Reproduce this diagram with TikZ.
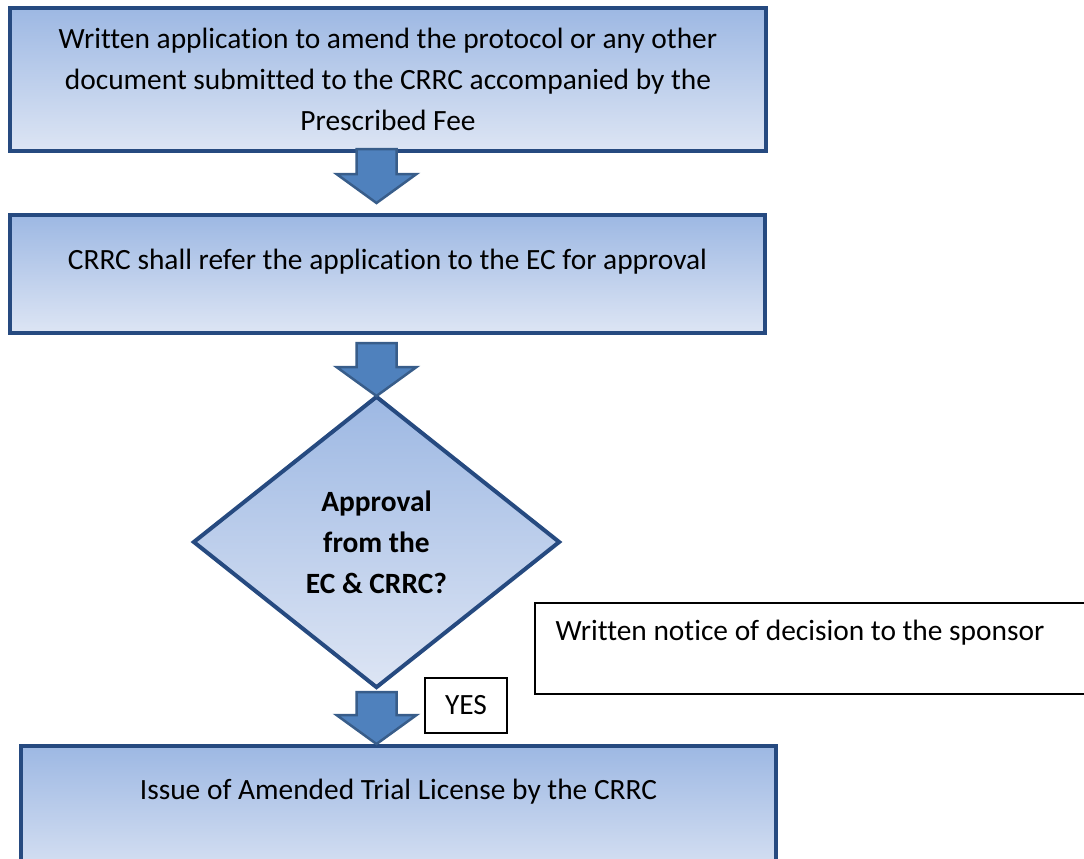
\documentclass[tikz,border=0pt]{standalone}
\usepackage{fontspec}
\setmainfont[Ligatures=NoCommon]{Carlito}
\usetikzlibrary{
    calc,
    positioning,
    shapes.geometric
}
\definecolor{frameblue}{RGB}{38,74,128}
\definecolor{shadetop}{RGB}{157,184,227}
\definecolor{shadebottom}{RGB}{221,229,244}
\definecolor{arrowfill}{RGB}{79,129,189}
\definecolor{arrowframe}{RGB}{56,93,138}
\newcommand{\flowfont}{\fontsize{29.4pt}{41pt}\selectfont}
\tikzset{
    % Colours
    frame color/.style={draw=frameblue},
    flow shading/.style={top color=shadetop,bottom color=shadebottom},
    %
    % Boxes
    process/.style={rectangle,frame color,flow shading,line width=4pt,inner sep=0pt,align=center},
    decision/.style={diamond,frame color,flow shading,line width=4pt,inner sep=0pt,align=center,font=\flowfont\bfseries},
    remark/.style={rectangle,draw=black,fill=white,line width=1.3pt,inner sep=0pt},
    %
    % Block arrows
    block arrow/.style={draw=arrowframe,fill=arrowfill,line width=2.5pt,
        to path={let \p1=(\tikztostart), \p2=(\tikztotarget) in
            (\x2-20pt,\y1) -- (\x2+20pt,\y1) -- (\x2+20pt,\y2+29pt) -- (\x2+40pt,\y2+29pt)
            -- (\x2,\y2) -- (\x2-40pt,\y2+29pt) -- (\x2-20pt,\y2+29pt) -- cycle}}
}
\tikzstyle{every node}=[font=\flowfont]

\begin{document}
\begin{tikzpicture}[x=1pt,y=-1pt]
    \useasboundingbox (0,0) rectangle (1084,859);
    \clip (0,0) rectangle (1084,859);
    \fill[white] (0,0) rectangle (1084,859);
    % Steps
    \node[process,minimum width=756pt,minimum height=143pt] (submit) at (388,79.5)
        {Written application to amend the protocol or any other\\document submitted to the CRRC accompanied by the\\Prescribed Fee};
    \node[process,minimum width=755pt,minimum height=118pt] (refer) at (387.5,274) {};
    \node (refertext) at ($(refer.north)+(0,49)$) {CRRC shall refer the application to the EC for approval};
    \node[decision,minimum width=367pt,minimum height=292pt] (approve) at (376.5,542) {Approval\\from the\\EC \& CRRC?};
    \node[process,minimum width=755pt,minimum height=140pt] (license) at (398.5,816) {};
    \node (licensetext) at ($(license.north)+(0,48)$) {Issue of Amended Trial License by the CRRC};
    % Side notes
    \node[remark,minimum width=565pt,minimum height=91pt] (notice) at (817.5,648.5) {};
    \node[anchor=west,inner sep=0pt] (noticetext) at ($(notice.north west)+(21,30)$) {Written notice of decision to the sponsor};
    \node[remark,minimum width=82pt,minimum height=55pt] (yes) at (466,705.5) {YES};
    % Arrows
    \draw[block arrow] ([yshift=4pt]submit.south) to ([yshift=10pt]refer.north -| approve.north);
    \draw[block arrow] ([yshift=-8pt]refer.south) to ([yshift=-2pt]approve.north);
    \draw[block arrow] ([yshift=-2pt]approve.south) to (license.north -| approve.north);
\end{tikzpicture}
\end{document}
